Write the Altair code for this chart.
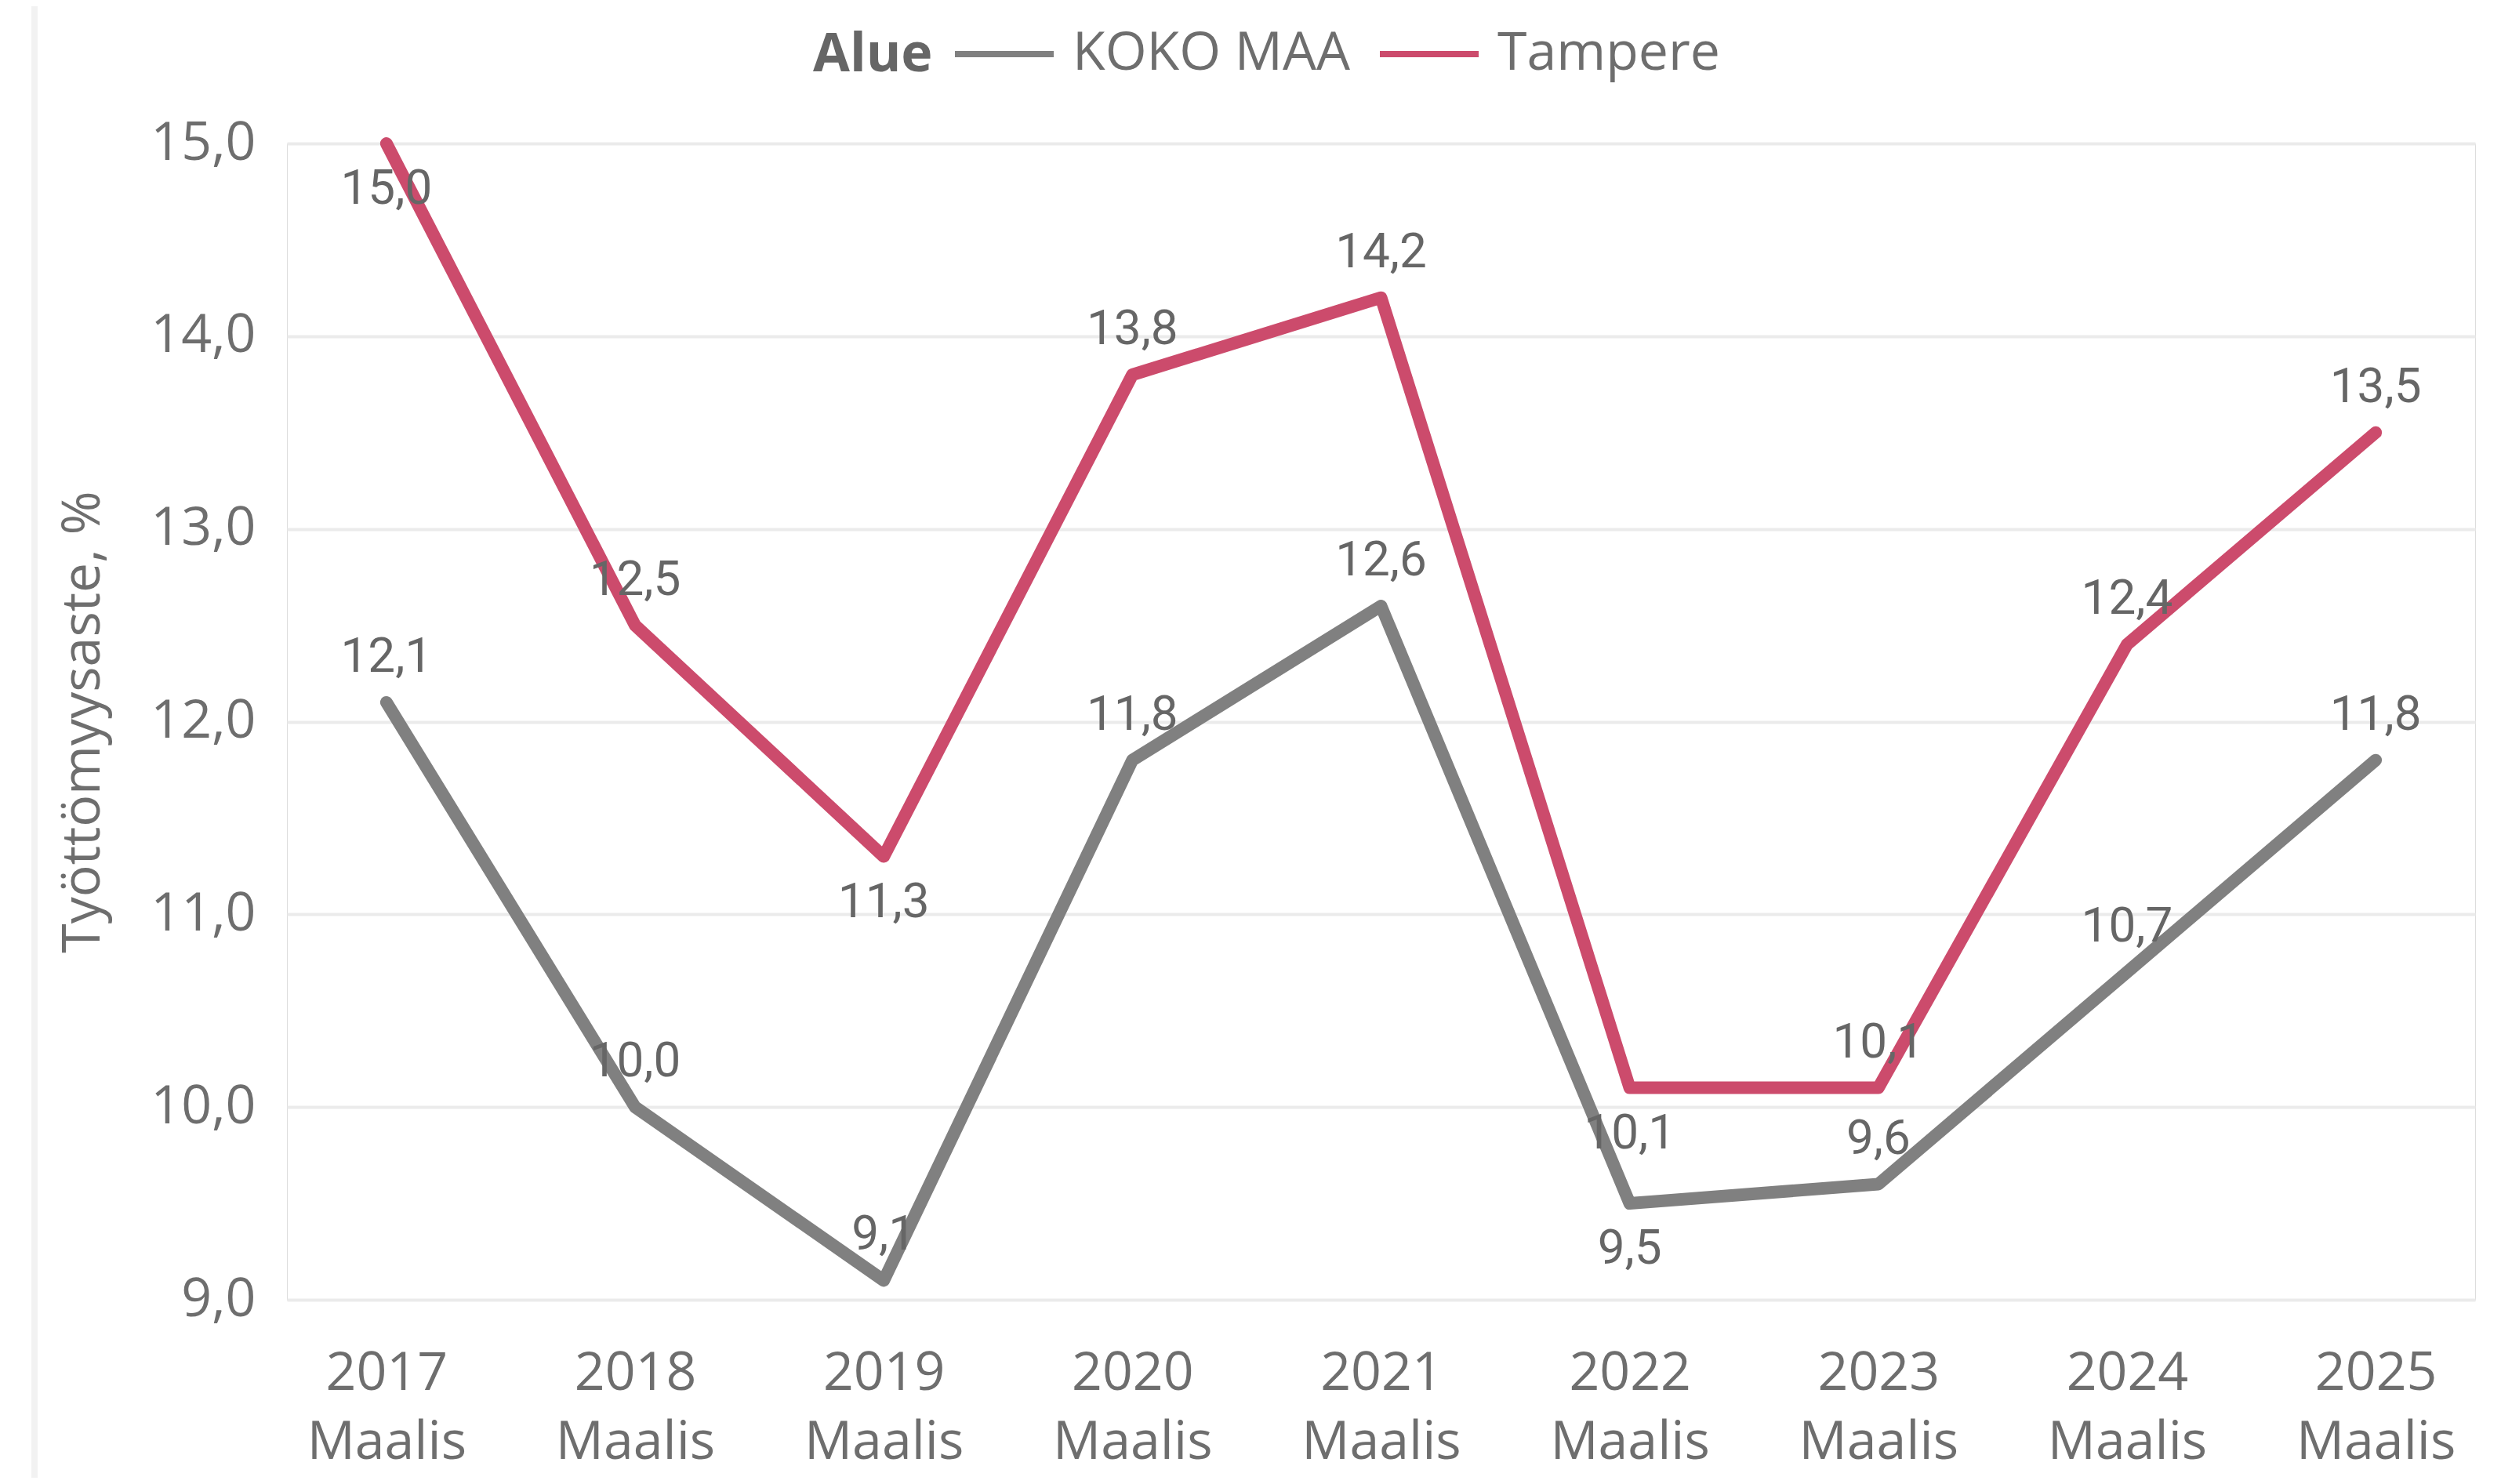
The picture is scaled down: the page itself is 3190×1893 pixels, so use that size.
import altair as alt
import pandas as pd

# ---- data ----
years = ["2017", "2018", "2019", "2020", "2021", "2022", "2023", "2024", "2025"]
month = "Maalis"
series_names = ["KOKO MAA", "Tampere"]
koko_maa = [12.1, 10.0, 9.1, 11.8, 12.6, 9.5, 9.6, 10.7, 11.8]
tampere = [15.0, 12.5, 11.3, 13.8, 14.2, 10.1, 10.1, 12.4, 13.5]
y_ticks = [9, 10, 11, 12, 13, 14, 15]
legend_title = "Alue"

# labels drawn below their point (the rest go above)
labels_below = {("Tampere", "2017"), ("Tampere", "2019"), ("Tampere", "2022"), ("KOKO MAA", "2022")}

rows = []
for name, vals in zip(series_names, [koko_maa, tampere]):
    for y, v in zip(years, vals):
        rows.append({
            "Kausi": f"{y} {month}",
            "Alue": name,
            "arvo": v,
            "sijainti": "alla" if (name, y) in labels_below else "yllä",
        })
df = pd.DataFrame(rows)
order = [f"{y} {month}" for y in years]

FONT = "Open Sans"
LABEL_FONT = "Roboto"
TXT = "#6E6E6E"

W, H = 2791, 1475

x_enc = alt.X("Kausi:N", sort=order,
              scale=alt.Scale(type="point", padding=0.4),
              axis=alt.Axis(title=None, labelAngle=0, labelExpr="split(datum.label, ' ')",
                            labelFont=FONT, labelFontSize=68, labelColor=TXT,
                            labelLineHeight=88, labelPadding=60, labelLimit=0,
                            ticks=False, domain=False, grid=False))
y_enc = alt.Y("arvo:Q",
              scale=alt.Scale(domain=[9, 15], nice=False, zero=False),
              axis=alt.Axis(title="Työttömyysaste, %", values=y_ticks,
                            labelExpr="replace(format(datum.value, '.1f'), '.', ',')",
                            labelFont=FONT, labelFontSize=68, labelColor=TXT,
                            labelPadding=40, ticks=False, domain=False,
                            grid=True, gridColor="#EBEBEB", gridWidth=4,
                            titleFont=FONT, titleFontSize=68, titleColor=TXT,
                            titleFontWeight="normal", titleAngle=270,
                            titleX=-260, titleY=H / 2, titleAlign="center",
                            titleBaseline="middle"))
color_enc = alt.Color("Alue:N",
                      scale=alt.Scale(domain=series_names, range=["#808080", "#CC4B6C"]),
                      legend=alt.Legend(orient="none", legendX=848, legendY=-181,
                                        direction="horizontal", title=None,
                                        labelFont=FONT, labelFontSize=68, labelColor=TXT,
                                        labelLimit=0,
                                        symbolType="stroke", symbolStrokeWidth=8,
                                        symbolSize=126 * 126, labelOffset=20,
                                        columnPadding=22))

base = alt.Chart(df)

lines = base.mark_line(strokeWidth=16, strokeCap="round", strokeJoin="round", clip=False).encode(
    x=x_enc, y=y_enc, color=color_enc, detail="Alue:N")

label_calc = "replace(format(datum.arvo, '.1f'), '.', ',')"
above = base.transform_filter("datum.sijainti == 'yllä'").transform_calculate(
    teksti=label_calc).mark_text(font=LABEL_FONT, fontSize=62, color="#666666",
                                 dy=-58, baseline="middle").encode(
    x=alt.X("Kausi:N", sort=order), y="arvo:Q", text="teksti:N")
below = base.transform_filter("datum.sijainti == 'alla'").transform_calculate(
    teksti=label_calc).mark_text(font=LABEL_FONT, fontSize=62, color="#666666",
                                 dy=58, baseline="middle").encode(
    x=alt.X("Kausi:N", sort=order), y="arvo:Q", text="teksti:N")

title_text = alt.Chart(pd.DataFrame({"t": [legend_title]})).mark_text(
    font=FONT, fontSize=68, fontWeight="bold", color="#666666",
    align="left", baseline="middle").encode(
    x=alt.value(671), y=alt.value(-112), text="t:N")

edge = alt.Chart(pd.DataFrame({"k": [0]})).mark_rule(color="#F2F2F2", strokeWidth=8).encode(
    x=alt.value(-322), y=alt.value(-175), y2=alt.value(H + 227))

chart = alt.layer(edge, lines, above, below, title_text).properties(
    width=W, height=H,
    autosize=alt.AutoSizeParams(type="none"),
    padding={"left": 358, "top": 175, "right": 25, "bottom": 227},
).configure_view(stroke=None).configure(background="white")

chart.save("out.html", embed_options={"renderer": "svg", "actions": False})
